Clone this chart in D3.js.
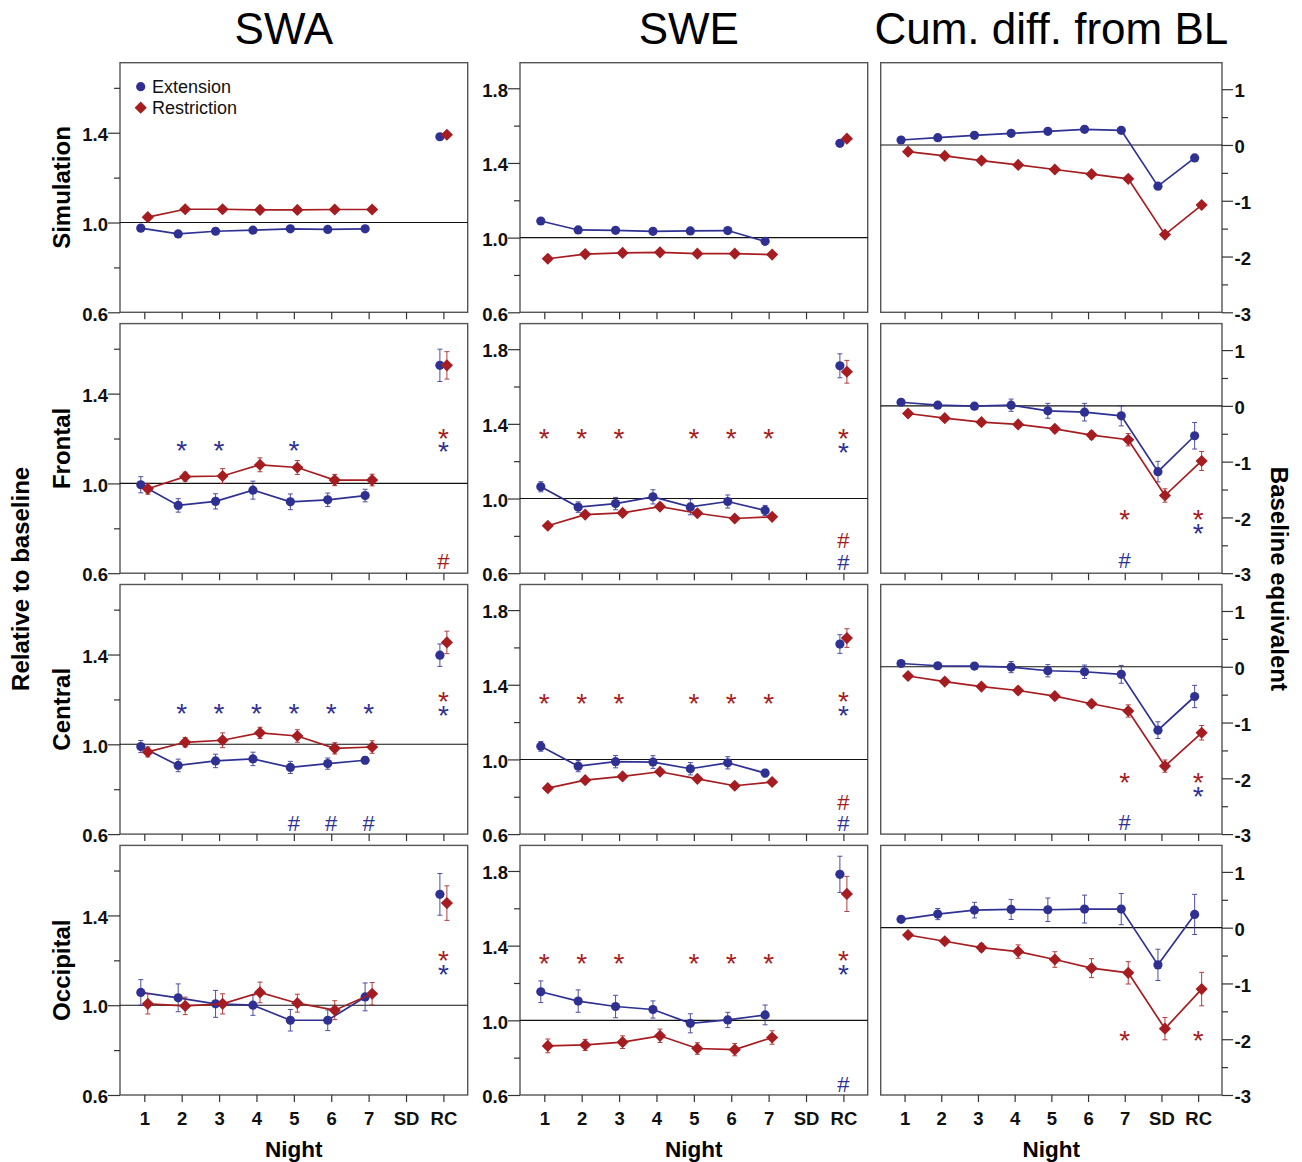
<!DOCTYPE html>
<html>
<head>
<meta charset="utf-8">
<script src="https://cdn.jsdelivr.net/npm/d3@7"></script>
<style>
  body { margin: 0; background: #fff; }
  svg { font-family: "Liberation Sans", Arial, sans-serif; }
</style>
</head>
<body>
<svg id="chart" width="1302" height="1162"></svg>
<script>
const nights = ["1", "2", "3", "4", "5", "6", "7", "SD", "RC"];
const regions = ["Simulation", "Frontal", "Central", "Occipital"];
const columnTitles = ["SWA", "SWE", "Cum. diff. from BL"];
const groups = ["Extension", "Restriction"];

// SWA, relative to baseline (rows follow `regions`)
const swaExt = [
  [0.975, 0.949, 0.961, 0.966, 0.972, 0.969, 0.972, null, 1.382],
  [0.994, 0.902, 0.92, 0.97, 0.918, 0.927, 0.946, null, 1.526],
  [0.99, 0.906, 0.926, 0.935, 0.897, 0.914, 0.929, null, 1.397],
  [1.057, 1.033, 1.006, 1.0, 0.933, 0.933, 1.037, null, 1.494],
];
const swaExtErr = [
  null,
  [0.036, 0.03, 0.034, 0.04, 0.035, 0.03, 0.028, null, 0.072],
  [0.027, 0.028, 0.03, 0.03, 0.027, 0.025, 0.016, null, 0.05],
  [0.057, 0.062, 0.06, 0.045, 0.048, 0.046, 0.062, null, 0.093],
];
const swaRes = [
  [1.024, 1.059, 1.059, 1.056, 1.056, 1.058, 1.058, null, 1.391],
  [0.976, 1.03, 1.033, 1.083, 1.071, 1.015, 1.015, null, 1.526],
  [0.966, 1.009, 1.018, 1.051, 1.037, 0.982, 0.988, null, 1.454],
  [1.006, 0.997, 1.006, 1.057, 1.009, 0.978, 1.051, null, 1.455],
];
const swaResErr = [
  null,
  [0.024, 0.02, 0.033, 0.031, 0.031, 0.025, 0.026, null, 0.061],
  [0.022, 0.021, 0.033, 0.025, 0.028, 0.025, 0.028, null, 0.05],
  [0.045, 0.039, 0.045, 0.046, 0.04, 0.042, 0.05, null, 0.077],
];

// SWE, relative to baseline
const sweExt = [
  [1.089, 1.041, 1.039, 1.034, 1.036, 1.038, 0.98, null, 1.505],
  [1.063, 0.954, 0.973, 1.009, 0.955, 0.984, 0.936, null, 1.711],
  [1.07, 0.964, 0.988, 0.986, 0.95, 0.982, 0.927, null, 1.618],
  [1.153, 1.103, 1.074, 1.058, 0.984, 1.002, 1.029, null, 1.782],
];
const sweExtErr = [
  null,
  [0.027, 0.028, 0.033, 0.038, 0.042, 0.035, 0.027, null, 0.064],
  [0.026, 0.03, 0.033, 0.034, 0.033, 0.033, 0.02, null, 0.05],
  [0.058, 0.06, 0.06, 0.046, 0.051, 0.041, 0.053, null, 0.097],
];
const sweRes = [
  [0.887, 0.912, 0.918, 0.921, 0.914, 0.914, 0.909, null, 1.53],
  [0.854, 0.914, 0.923, 0.957, 0.921, 0.893, 0.902, null, 1.679],
  [0.846, 0.889, 0.909, 0.934, 0.896, 0.859, 0.879, null, 1.65],
  [0.863, 0.868, 0.883, 0.917, 0.849, 0.843, 0.908, null, 1.677],
];
const sweResErr = [
  null,
  [0.012, 0.012, 0.015, 0.015, 0.012, 0.01, 0.012, null, 0.061],
  [0.015, 0.013, 0.013, 0.013, 0.012, 0.012, 0.012, null, 0.05],
  [0.037, 0.03, 0.034, 0.036, 0.031, 0.033, 0.036, null, 0.094],
];

// Cumulative difference from baseline, baseline equivalent
const cumExt = [
  [0.089, 0.13, 0.173, 0.208, 0.244, 0.28, 0.262, -0.738, -0.232],
  [0.065, 0.012, -0.006, 0.012, -0.089, -0.113, -0.179, -1.179, -0.536],
  [0.059, 0.018, 0.012, -0.006, -0.071, -0.089, -0.136, -1.136, -0.533],
  [0.149, 0.244, 0.315, 0.327, 0.321, 0.333, 0.333, -0.667, 0.238],
];
const cumExtErr = [
  null,
  [0.02, 0.03, 0.06, 0.11, 0.134, 0.158, 0.18, 0.185, 0.238],
  [0.02, 0.03, 0.05, 0.1, 0.11, 0.12, 0.16, 0.15, 0.2],
  [0.03, 0.1, 0.14, 0.18, 0.21, 0.25, 0.28, 0.28, 0.36],
];
const cumRes = [
  [-0.12, -0.196, -0.28, -0.357, -0.44, -0.524, -0.607, -1.607, -1.077],
  [-0.137, -0.22, -0.292, -0.333, -0.411, -0.524, -0.607, -1.607, -0.988],
  [-0.166, -0.266, -0.355, -0.426, -0.527, -0.663, -0.793, -1.781, -1.183],
  [-0.131, -0.244, -0.357, -0.429, -0.571, -0.726, -0.81, -1.81, -1.101],
];
const cumResErr = [
  null,
  [0.04, 0.05, 0.05, 0.05, 0.06, 0.07, 0.11, 0.12, 0.17],
  [0.03, 0.04, 0.04, 0.05, 0.05, 0.06, 0.11, 0.11, 0.13],
  [0.04, 0.05, 0.07, 0.12, 0.14, 0.17, 0.2, 0.2, 0.3],
];

// significance marks: [region, night, group, symbol, value]
const swaMarks = [
  ["Frontal", "2", "Extension", "*", 1.178],
  ["Frontal", "3", "Extension", "*", 1.178],
  ["Frontal", "5", "Extension", "*", 1.178],
  ["Frontal", "RC", "Restriction", "*", 1.229],
  ["Frontal", "RC", "Extension", "*", 1.174],
  ["Frontal", "RC", "Restriction", "#", 0.653],
  ["Central", "2", "Extension", "*", 1.167],
  ["Central", "3", "Extension", "*", 1.167],
  ["Central", "4", "Extension", "*", 1.167],
  ["Central", "5", "Extension", "*", 1.167],
  ["Central", "6", "Extension", "*", 1.167],
  ["Central", "7", "Extension", "*", 1.167],
  ["Central", "RC", "Restriction", "*", 1.22],
  ["Central", "RC", "Extension", "*", 1.159],
  ["Central", "5", "Extension", "#", 0.648],
  ["Central", "6", "Extension", "#", 0.648],
  ["Central", "7", "Extension", "#", 0.648],
  ["Occipital", "RC", "Restriction", "*", 1.23],
  ["Occipital", "RC", "Extension", "*", 1.168],
];
const sweMarks = [
  ["Frontal", "1", "Restriction", "*", 1.355],
  ["Frontal", "2", "Restriction", "*", 1.355],
  ["Frontal", "3", "Restriction", "*", 1.355],
  ["Frontal", "5", "Restriction", "*", 1.355],
  ["Frontal", "6", "Restriction", "*", 1.355],
  ["Frontal", "7", "Restriction", "*", 1.355],
  ["Frontal", "RC", "Restriction", "*", 1.355],
  ["Frontal", "RC", "Extension", "*", 1.284],
  ["Frontal", "RC", "Restriction", "#", 0.779],
  ["Frontal", "RC", "Extension", "#", 0.662],
  ["Central", "1", "Restriction", "*", 1.336],
  ["Central", "2", "Restriction", "*", 1.336],
  ["Central", "3", "Restriction", "*", 1.336],
  ["Central", "5", "Restriction", "*", 1.336],
  ["Central", "6", "Restriction", "*", 1.336],
  ["Central", "7", "Restriction", "*", 1.336],
  ["Central", "RC", "Restriction", "*", 1.348],
  ["Central", "RC", "Extension", "*", 1.271],
  ["Central", "RC", "Restriction", "#", 0.771],
  ["Central", "RC", "Extension", "#", 0.657],
  ["Occipital", "1", "Restriction", "*", 1.342],
  ["Occipital", "2", "Restriction", "*", 1.342],
  ["Occipital", "3", "Restriction", "*", 1.342],
  ["Occipital", "5", "Restriction", "*", 1.342],
  ["Occipital", "6", "Restriction", "*", 1.342],
  ["Occipital", "7", "Restriction", "*", 1.342],
  ["Occipital", "RC", "Restriction", "*", 1.355],
  ["Occipital", "RC", "Extension", "*", 1.281],
  ["Occipital", "RC", "Extension", "#", 0.661],
];
const cumMarks = [
  ["Frontal", "7", "Restriction", "*", -1.923],
  ["Frontal", "RC", "Restriction", "*", -1.923],
  ["Frontal", "RC", "Extension", "*", -2.167],
  ["Frontal", "7", "Extension", "#", -2.76],
  ["Central", "7", "Restriction", "*", -1.953],
  ["Central", "RC", "Restriction", "*", -1.953],
  ["Central", "RC", "Extension", "*", -2.2],
  ["Central", "7", "Extension", "#", -2.793],
  ["Occipital", "7", "Restriction", "*", -1.905],
  ["Occipital", "RC", "Restriction", "*", -1.905],
];

const color = { Extension: "#2e3192", Restriction: "#a51d21" };
const dodge = { Extension: -3.5, Restriction: 3.5 };

const colX = [120, 520, 880.7];
const colW = [347.7, 347.7, 341.3];
const rowTop = (i) => 62.7 + i * 260.9;
const rowH = 249.6;

const columns = [
  {
    domain: [0.6, 1.712], major: [0.6, 1.0, 1.4], minor: [0.8, 1.2, 1.6],
    ref: 1, fmt: d3.format(".1f"), right: false,
    ext: swaExt, extErr: swaExtErr, res: swaRes, resErr: swaResErr, marks: swaMarks,
  },
  {
    domain: [0.6, 1.937], major: [0.6, 1.0, 1.4, 1.8], minor: [0.8, 1.2, 1.6],
    ref: 1, fmt: d3.format(".1f"), right: false,
    ext: sweExt, extErr: sweExtErr, res: sweRes, resErr: sweResErr, marks: sweMarks,
  },
  {
    domain: [-3, 1.475], major: [-3, -2, -1, 0, 1], minor: [-2.5, -1.5, -0.5, 0.5],
    ref: 0, fmt: (d) => String(d), right: true,
    ext: cumExt, extErr: cumExtErr, res: cumRes, resErr: cumResErr, marks: cumMarks,
  },
];

const svg = d3.select("#chart");

// column titles
const titleShift = [-10, -5, 0];
columnTitles.forEach((t, c) => {
  svg.append("text")
    .attr("x", colX[c] + colW[c] / 2 + titleShift[c])
    .attr("y", 43.5)
    .attr("text-anchor", "middle")
    .attr("font-size", 44)
    .text(t);
});

function diamond(sel, cx, cy, fill) {
  return sel.append("path")
    .attr("transform", `translate(${cx},${cy}) rotate(45)`)
    .attr("d", d3.symbol(d3.symbolSquare, 74)())
    .attr("fill", fill);
}

columns.forEach((col, c) => {
  const x = d3.scalePoint()
    .domain(nights)
    .range([colX[c], colX[c] + colW[c]])
    .padding(0.65);

  regions.forEach((region, r) => {
    const top = rowTop(r);
    const y = d3.scaleLinear().domain(col.domain).range([top + rowH, top]);
    const g = svg.append("g");

    // frame
    g.append("rect")
      .attr("x", colX[c]).attr("y", top)
      .attr("width", colW[c]).attr("height", rowH)
      .attr("fill", "none").attr("stroke", "#555").attr("stroke-width", 1.4);

    // reference line
    g.append("line")
      .attr("x1", colX[c]).attr("x2", colX[c] + colW[c])
      .attr("y1", y(col.ref)).attr("y2", y(col.ref))
      .attr("stroke", "#111").attr("stroke-width", 1.1);

    // y axes
    const edge = col.right ? colX[c] + colW[c] : colX[c];
    const axisFn = col.right ? d3.axisRight : d3.axisLeft;
    const yMajor = g.append("g")
      .attr("transform", `translate(${edge},0)`)
      .call(axisFn(y).tickValues(col.major).tickSize(col.right ? 11 : 12)
        .tickPadding(col.right ? 1.5 : 0).tickFormat(col.fmt));
    g.append("g")
      .attr("transform", `translate(${edge},0)`)
      .call(axisFn(y).tickValues(col.minor).tickSize(6).tickFormat(""));
    g.selectAll(".domain").remove();
    g.selectAll(".tick line").attr("stroke", "#333").attr("stroke-width", 1.2);
    yMajor.selectAll("text")
      .attr("font-size", 18.5).attr("font-weight", "bold")
      .attr("font-family", "Liberation Sans, Arial, sans-serif")
      .attr("fill", "#111").attr("dy", "0.42em");

    // x axis
    const xAxis = g.append("g")
      .attr("transform", `translate(0,${top + rowH})`)
      .call(d3.axisBottom(x).tickSize(7).tickPadding(10)
        .tickFormat(r === regions.length - 1 ? (d) => d : ""));
    xAxis.select(".domain").remove();
    xAxis.selectAll(".tick line").attr("stroke", "#333").attr("stroke-width", 1.2);
    xAxis.selectAll("text")
      .attr("font-size", 18.5).attr("font-weight", "bold")
      .attr("font-family", "Liberation Sans, Arial, sans-serif")
      .attr("fill", "#111");

    // series
    [["Extension", col.ext[r], col.extErr[r]], ["Restriction", col.res[r], col.resErr[r]]]
      .forEach(([grp, vals, errs]) => {
        const pts = nights.map((n, i) => ({
          n, v: vals[i], e: errs ? errs[i] : null,
        }));
        const px = (d) => x(d.n) + dodge[grp];
        const sg = g.append("g");

        sg.append("path")
          .datum(pts)
          .attr("fill", "none")
          .attr("stroke", color[grp])
          .attr("stroke-width", 1.7)
          .attr("d", d3.line().defined((d) => d.v != null).x(px).y((d) => y(d.v)));

        const withErr = pts.filter((d) => d.v != null && d.e != null);
        const eb = sg.selectAll(".err").data(withErr).join("g")
          .attr("stroke", color[grp]).attr("stroke-width", 1).attr("opacity", 0.85);
        eb.append("line")
          .attr("x1", px).attr("x2", px)
          .attr("y1", (d) => y(d.v - d.e)).attr("y2", (d) => y(d.v + d.e));
        eb.append("line")
          .attr("x1", (d) => px(d) - 2.5).attr("x2", (d) => px(d) + 2.5)
          .attr("y1", (d) => y(d.v + d.e)).attr("y2", (d) => y(d.v + d.e));
        eb.append("line")
          .attr("x1", (d) => px(d) - 2.5).attr("x2", (d) => px(d) + 2.5)
          .attr("y1", (d) => y(d.v - d.e)).attr("y2", (d) => y(d.v - d.e));

        const shown = pts.filter((d) => d.v != null);
        if (grp === "Extension") {
          sg.selectAll("circle").data(shown).join("circle")
            .attr("cx", px).attr("cy", (d) => y(d.v)).attr("r", 4.6)
            .attr("fill", color[grp]);
        } else {
          shown.forEach((d) => diamond(sg, px(d), y(d.v), color[grp]));
        }
      });

    // significance marks
    col.marks.filter((m) => m[0] === region).forEach(([, n, grp, sym, v]) => {
      g.append("text")
        .attr("x", x(n))
        .attr("y", y(v))
        .attr("dy", sym === "*" ? "0.58em" : "0.36em")
        .attr("text-anchor", "middle")
        .attr("font-size", sym === "*" ? 28 : 22)
        .attr("fill", color[grp])
        .text(sym);
    });

    // legend in first panel
    if (c === 0 && r === 0) {
      groups.forEach((grp, i) => {
        const ly = 86.7 + i * 21;
        if (grp === "Extension") {
          g.append("circle").attr("cx", 140.7).attr("cy", ly).attr("r", 4.6)
            .attr("fill", color[grp]);
        } else {
          diamond(g, 140.7, ly, color[grp]);
        }
        g.append("text").attr("x", 152).attr("y", ly).attr("dy", "0.35em")
          .attr("font-size", 18).attr("fill", "#111").text(grp);
      });
    }
  });

  // x axis title under bottom row
  svg.append("text")
    .attr("x", colX[c] + colW[c] / 2)
    .attr("y", 1157)
    .attr("text-anchor", "middle")
    .attr("font-size", 22.5).attr("font-weight", "bold")
    .text("Night");
});

// row labels
regions.forEach((region, r) => {
  svg.append("text")
    .attr("transform", `translate(70,${rowTop(r) + rowH / 2}) rotate(-90)`)
    .attr("text-anchor", "middle")
    .attr("font-size", 24).attr("font-weight", "bold")
    .text(region);
});

const midY = (rowTop(0) + rowTop(3) + rowH) / 2;
svg.append("text")
  .attr("transform", `translate(28.5,${midY}) rotate(-90)`)
  .attr("text-anchor", "middle")
  .attr("font-size", 24).attr("font-weight", "bold")
  .text("Relative to baseline");

svg.append("text")
  .attr("transform", `translate(1271,${midY}) rotate(90)`)
  .attr("text-anchor", "middle")
  .attr("font-size", 24).attr("font-weight", "bold")
  .text("Baseline equivalent");
</script>
</body>
</html>
